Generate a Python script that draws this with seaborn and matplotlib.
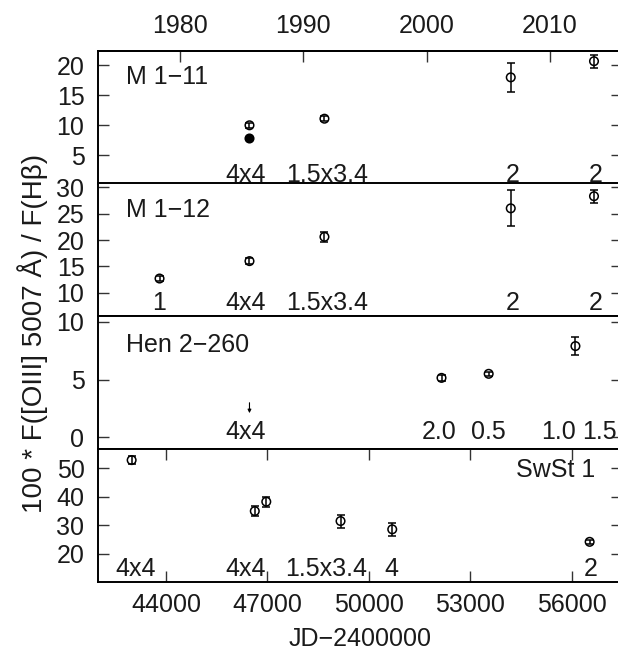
import numpy as np
import pandas as pd
import matplotlib
matplotlib.use("Agg")
import matplotlib.pyplot as plt
import matplotlib.transforms as mtransforms
import seaborn as sns

# ---------------- data ----------------
m111_jd = [46471, 48688, 54198, 56660]
m111_val = [10.0, 11.1, 18.0, 20.7]
m111_err = [0.4, 0.4, 2.4, 1.1]
m111_filled_jd = [46471]
m111_filled_val = [7.8]
m111_lbl_jd = [46365, 48768, 54260, 56700]
m111_lbl = ["4x4", "1.5x3.4", "2", "2"]

m112_jd = [43811, 46471, 48688, 54198, 56660]
m112_val = [12.7, 16.0, 20.6, 26.0, 28.3]
m112_err = [0.5, 0.5, 1.0, 3.4, 1.2]
m112_lbl_jd = [43811, 46365, 48768, 54260, 56700]
m112_lbl = ["1", "4x4", "1.5x3.4", "2", "2"]

hen_jd = [52150, 53545, 56111]
hen_val = [5.15, 5.5, 7.9]
hen_err = [0.25, 0.2, 0.8]
hen_lim_jd = [46471]
hen_lim_val = [3.0]
hen_lbl_jd = [46365, 52067, 53545, 55602, 56820]
hen_lbl = ["4x4", "2.0", "0.5", "1.0", "1.5"]

swst_jd = [42986, 46628, 46968, 49164, 50693, 56531]
swst_val = [52.9, 35.0, 38.3, 31.5, 28.6, 24.2]
swst_err = [1.5, 1.7, 1.7, 2.3, 2.3, 0.8]
swst_lbl_jd = [43090, 46365, 48740, 50670, 56550]
swst_lbl = ["4x4", "4x4", "1.5x3.4", "4", "2"]

names = ["M 1\u221211", "M 1\u221212", "Hen 2\u2212260", "SwSt 1"]
ylims = [(0.2, 22.4), (5.6, 30.8), (-1.0, 10.5), (10.1, 56.8)]
yticks = [[5, 10, 15, 20], [10, 15, 20, 25, 30], [0, 5, 10], [20, 30, 40, 50]]
xticks_jd = [44000, 47000, 50000, 53000, 56000]
year_ticks = [1980, 1990, 2000, 2010]

# ---------------- style ----------------
sns.set_theme(style="ticks")
plt.rcParams["font.family"] = ["Liberation Sans", "DejaVu Sans"]
FS = 18
TXT = "#1a1a1a"
plt.rcParams["axes.linewidth"] = 1.4

W, H = 618, 659
fig = plt.figure(figsize=(W / 100, H / 100), dpi=100)
fig.patch.set_facecolor("white")

left = 98.3 / W
width = (622.4 - 98.3) / W
tops = [51, 183, 316, 449]
ph = 133

datasets = [
    (m111_jd, m111_val, m111_err, m111_lbl_jd, m111_lbl),
    (m112_jd, m112_val, m112_err, m112_lbl_jd, m112_lbl),
    (hen_jd, hen_val, hen_err, hen_lbl_jd, hen_lbl),
    (swst_jd, swst_val, swst_err, swst_lbl_jd, swst_lbl),
]
lbl_y = [0.068, 0.10, 0.125, 0.098]

axes = []
for i, (jd, val, err, ljd, lbl) in enumerate(datasets):
    bottom = 1 - (tops[i] + ph) / H
    ax = fig.add_axes([left, bottom, width, ph / H])
    axes.append(ax)
    df = pd.DataFrame({"jd": jd, "val": val, "err": err})
    ax.errorbar(df["jd"], df["val"], yerr=df["err"], fmt="none",
                ecolor="black", elinewidth=1.1, capsize=3.2, capthick=1.1, zorder=2)
    sns.scatterplot(data=df, x="jd", y="val", ax=ax, marker="o", s=38,
                    color="black", facecolor="none", edgecolor="black",
                    linewidth=1.1, zorder=3, legend=False)
    ax.set_xlim(42000, 57500)
    ax.set_ylim(*ylims[i])
    ax.set_yticks(yticks[i])
    ax.set_xlabel("")
    ax.set_ylabel("")
    for s in ax.spines.values():
        s.set_visible(True)
        s.set_linewidth(1.4)
        s.set_color("black")
    ax.tick_params(axis="y", direction="in", length=8, width=1.0, left=True,
                   right=True, labelsize=FS, pad=10, color="#333333",
                   labelcolor=TXT)
    trans = mtransforms.blended_transform_factory(ax.transData, ax.transAxes)
    for xj, t in zip(ljd, lbl):
        ax.text(xj, lbl_y[i], t, transform=trans, ha="center", va="center",
                fontsize=FS, color=TXT)
    if i < 3:
        ax.tick_params(axis="x", bottom=False, top=False, labelbottom=False)
    else:
        ax.set_xticks(xticks_jd)
        ax.tick_params(axis="x", direction="in", length=8, width=1.0,
                       bottom=True, top=True, labelsize=FS, pad=8,
                       color="#333333", labelcolor=TXT)
        ax.set_xlabel("JD\u22122400000", fontsize=FS, labelpad=7, color=TXT)

# special marks
ax1 = axes[0]
sns.scatterplot(x=m111_filled_jd, y=m111_filled_val, ax=ax1, marker="o", s=38,
                color="black", edgecolor="black", linewidth=1.1, zorder=3, legend=False)
ax3 = axes[2]
for xj, yv in zip(hen_lim_jd, hen_lim_val):
    ax3.annotate("", xy=(xj, yv - 0.9), xytext=(xj, yv),
                 arrowprops=dict(arrowstyle="-|>", lw=0.8, color="black",
                                 mutation_scale=5, shrinkA=0, shrinkB=0))

# panel names
for i, ax in enumerate(axes):
    if i < 3:
        ax.text(0.052, [0.805, 0.80, 0.785][i], names[i], transform=ax.transAxes,
                ha="left", va="center", fontsize=FS, color=TXT)
    else:
        ax.text(0.949, 0.84, names[i], transform=ax.transAxes,
                ha="right", va="center", fontsize=FS, color=TXT)

# top year axis
def jd2yr(j):
    return 1980 + (np.asarray(j) - 44402.0) / 365.25

def yr2jd(y):
    return 44402.0 + (np.asarray(y) - 1980) * 365.25

sec = ax1.secondary_xaxis("top", functions=(jd2yr, yr2jd))
sec.set_xticks(year_ticks)
sec.tick_params(axis="x", direction="in", length=8, width=1.0, labelsize=FS,
                pad=9, color="#333333", labelcolor=TXT)
sec.spines["top"].set_linewidth(1.4)

fig.text(33 / W, 1 - 333 / H, "100 * F([OIII] 5007 \u00c5) / F(H\u03b2)",
         rotation=90, ha="center", va="center", fontsize=20, color=TXT)

fig.savefig("out.png", dpi=100, facecolor="white")
